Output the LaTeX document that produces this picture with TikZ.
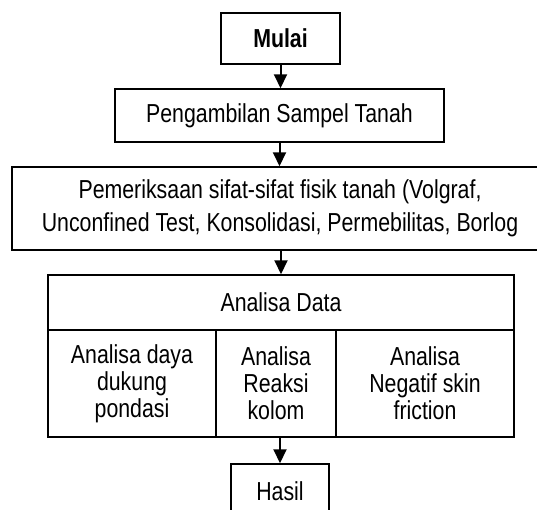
\documentclass[tikz,border=0pt]{standalone}
\usepackage{fontspec}
\setmainfont{Liberation Sans}[FakeStretch=0.82]
\usetikzlibrary{arrows.meta}
\begin{document}
\begin{tikzpicture}[x=1pt,y=-1pt,
  box/.style={draw=black, line width=1.5pt, rectangle, inner sep=0pt, align=center,
    font=\fontsize{26}{27}\selectfont},
  flow/.style={draw=black, line width=2pt, -{Triangle[length=14pt,width=13pt]}, shorten >=0pt}]
\useasboundingbox (0,0) rectangle (537,509);
\clip (0,0) rectangle (537,509);
\fill[white] (0,0) rectangle (537,509);
\node[box, minimum width=119pt, minimum height=51pt] (mulai) at (280.5,38.5) {\bfseries Mulai};
\node[box, minimum width=329pt, minimum height=53pt] (ambil) at (279.5,115.5) {Pengambilan Sampel Tanah};
\node[box, minimum width=536pt, minimum height=83pt, font=\fontsize{26}{33}\selectfont] (periksa) at (280,208.5)
  {Pemeriksaan sifat-sifat fisik tanah (Volgraf,\\Unconfined Test, Konsolidasi, Permebilitas, Borlog};
\node[box, minimum width=466pt, minimum height=55pt] (data) at (281,302.5) {Analisa Data};
\node[box, minimum width=168pt, minimum height=107pt] (daya) at (132,383.5) {Analisa daya\\dukung\\pondasi};
\node[box, minimum width=120pt, minimum height=107pt] (reaksi) at (276,383.5) {Analisa\\Reaksi\\kolom};
\node[box, minimum width=178pt, minimum height=107pt] (negatif) at (425,383.5) {Analisa\\Negatif skin\\friction};
\node[box, minimum width=98pt, minimum height=54pt] (hasil) at (280,491) {Hasil};
\draw[flow] (mulai.south) -- (mulai.south |- ambil.north);
\draw[flow] (ambil.south) -- (ambil.south |- periksa.north);
\draw[flow] (periksa.south -| data.north) -- (data.north);
\draw[flow] (reaksi.south -| hasil.north) -- (hasil.north);
\end{tikzpicture}
\end{document}
